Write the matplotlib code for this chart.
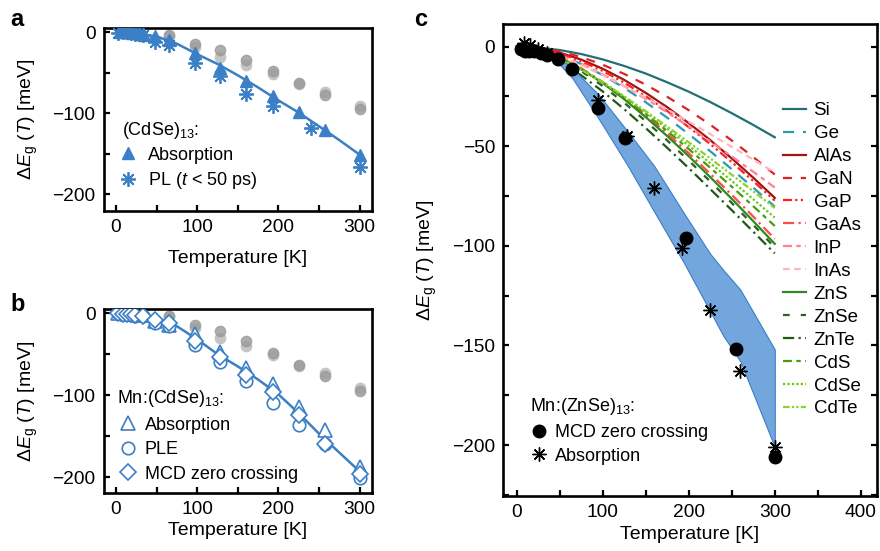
import matplotlib
matplotlib.use('Agg')
import matplotlib.pyplot as plt
from matplotlib.ticker import MultipleLocator

plt.rcParams['font.family'] = ['Liberation Sans', 'DejaVu Sans']
plt.rcParams['mathtext.fontset'] = 'custom'
plt.rcParams['mathtext.rm'] = 'Liberation Sans'
plt.rcParams['mathtext.it'] = 'Liberation Sans:italic'
plt.rcParams['mathtext.bf'] = 'Liberation Sans:bold'

# ===================== data: panel a, (CdSe)13 =====================
abs_a_T = [5, 10, 15, 20, 25, 30, 35, 48, 65, 97, 128, 160, 193, 225, 257, 300]
abs_a = [0, 0, 0, -1, -1, -2, -3, -5, -10, -26, -44, -60, -78, -98, -121, -152]
pl_a_T = [3, 8, 13, 18, 23, 28, 33, 48, 65, 97, 128, 160, 193, 240, 300]
pl_a = [-1, 0, 1, -1, -2, -2, -3, -12, -16, -38, -54, -76, -91, -118, -166]
fit_T = [0, 25, 50, 75, 100, 125, 150, 175, 200, 225, 250, 275, 300]
fit_a = [0, -1, -5, -14, -27, -39, -53, -68, -84, -99, -116, -133, -151]

# gray reference points (bulk)
gray_T = [65, 97, 128, 160, 193, 225, 257, 300]
gray_dark = [-3, -14, -22, -34, -48, -63, -77, -95]
gray_light = [-4, -18, -30, -40, -51, -64, -73, -91]

# ===================== data: panel b, Mn:(CdSe)13 =====================
b_T = [3, 8, 13, 18, 23, 33, 48, 65, 97, 128, 160, 193, 225, 257, 300]
abs_b = [0, 0, -1, -1, -1, -2, -10, -14, -26, -47, -67, -87, -114, -142, -187]
ple_b = [0, -1, -1, -2, -3, -3, -12, -16, -39, -59, -83, -110, -136, -160, -201]
mcd_b = [0, -1, -1, -1, -2, -4, -8, -12, -34, -54, -75, -96, -124, -159, -196]
fit_b = [0, -1, -5, -16, -32, -50, -65, -81, -99, -122, -147, -170, -193]

# ===================== data: panel c, Mn:(ZnSe)13 + bulk =====================
mcd_c_T = [5, 9, 14, 20, 28, 35, 48, 64, 95, 126, 197, 255, 300]
mcd_c = [-1, -2, -2, -2, -3, -4, -6, -11, -31, -46, -96, -152, -206]
abs_c_T = [8, 15, 25, 35, 95, 128, 160, 192, 225, 260, 300]
abs_c = [2, 1, -1, -3, -27, -45, -71, -101, -132, -163, -201]

band_T = [30, 50, 65, 95, 128, 160, 195, 225, 240, 260, 300]
band_upper = [-1, -6, -11, -24, -42, -60, -84, -104, -112, -122, -152]
band_lower = [-2, -9, -16, -36, -59, -83, -109, -133, -145, -158, -201]

bulk_T = [0, 25, 50, 75, 100, 125, 150, 175, 200, 225, 250, 275, 300]
si = [0, -0.4, -1.7, -3.7, -6.4, -9.7, -13.5, -17.9, -22.6, -27.8, -33.4, -39.3, -45.5]
ge = [0, -1.1, -4.2, -8.7, -14.3, -20.7, -27.9, -35.7, -43.9, -52.5, -61.5, -70.8, -80.3]
alas = [0, -0.8, -3.0, -6.5, -11.1, -16.7, -23.2, -30.4, -38.4, -46.9, -56.1, -65.8, -75.9]
gan = [0, -0.6, -2.4, -5.2, -9.1, -13.7, -19.1, -25.2, -31.9, -39.2, -47.1, -55.4, -64.2]
gap = [0, -0.9, -3.4, -7.3, -12.2, -18.1, -24.9, -32.3, -40.4, -48.9, -58.0, -67.5, -77.3]
gaas = [0, -1.5, -5.3, -10.9, -17.8, -25.7, -34.4, -43.7, -53.5, -63.8, -74.4, -85.3, -96.5]
inp = [0, -1.2, -4.3, -8.6, -13.9, -19.8, -26.2, -33.0, -40.1, -47.5, -55.1, -62.8, -70.7]
inas = [0, -1.5, -4.8, -9.2, -14.3, -19.8, -25.6, -31.5, -37.7, -43.9, -50.3, -56.7, -63.2]
zns = [0, -1.5, -5.5, -11.3, -18.3, -26.4, -35.4, -44.9, -55.0, -65.5, -76.4, -87.6, -99.0]
znse = [0, -1.7, -6.1, -12.3, -19.8, -28.2, -37.4, -47.1, -57.2, -67.7, -78.5, -89.5, -100.8]
znte = [0, -2.2, -7.4, -14.4, -22.5, -31.4, -40.9, -50.8, -61.0, -71.5, -82.1, -92.9, -103.8]
cds = [0, -1.6, -5.6, -11.3, -18.0, -25.6, -33.8, -42.4, -51.4, -60.8, -70.3, -80.1, -90.0]
cdse = [0, -1.7, -5.7, -11.3, -17.8, -25.1, -32.9, -41.2, -49.7, -58.5, -67.4, -76.6, -85.8]
cdte = [0, -1.8, -6.0, -11.6, -18.0, -25.0, -32.4, -40.1, -48.0, -56.1, -64.3, -72.6, -81.0]

materials = ['Si', 'Ge', 'AlAs', 'GaN', 'GaP', 'GaAs', 'InP', 'InAs',
             'ZnS', 'ZnSe', 'ZnTe', 'CdS', 'CdSe', 'CdTe']
curves = [si, ge, alas, gan, gap, gaas, inp, inas, zns, znse, znte, cds, cdse, cdte]
colors = ['#246f72', '#2a9cb2', '#a01414', '#dc2323', '#ff1f1f', '#ff4b4b', '#ff8090',
          '#ffb5bf', '#2f8a1d', '#2e5e22', '#1f5a14', '#4c9a10', '#66cc11', '#8ad230']
dashes = [(), (5, 4), (), (4, 4), (4, 1.5, 1, 1.5, 1, 1.5), (5, 2, 1, 2), (4, 2, 2, 2),
          (3, 2), (), (3, 5), (5, 2, 1, 2), (4, 2, 2, 2), (1, 1), (3, 1, 1, 1, 1, 1)]

blue = '#3b7fc6'
band_col = '#72a6dc'
ylab = r'$\Delta E_{\mathrm{g}}$ ($T$) [meV]'

fig = plt.figure(figsize=(8.8, 5.51), dpi=100)
ax_a = fig.add_axes([0.118, 0.617, 0.3045, 0.332])
ax_b = fig.add_axes([0.118, 0.106, 0.3045, 0.333])
ax_c = fig.add_axes([0.572, 0.0998, 0.4243, 0.856])


def style(ax, ymaj, ymin, xmaj, xmin, right=False, xpad=3):
    for s in ax.spines.values():
        s.set_linewidth(1.9)
    ax.yaxis.set_major_locator(MultipleLocator(ymaj))
    ax.yaxis.set_minor_locator(MultipleLocator(ymin))
    ax.xaxis.set_major_locator(MultipleLocator(xmaj))
    ax.xaxis.set_minor_locator(MultipleLocator(xmin))
    ax.tick_params(which='both', direction='in', length=4, width=1.6,
                   top=False, right=right, labelsize=13.8, pad=6)
    ax.set_xlabel('Temperature [K]', fontsize=14, labelpad=xpad)
    ax.set_ylabel(ylab, fontsize=14, labelpad=9)


leg_kw = dict(frameon=False, fontsize=13, title_fontsize=13, alignment='left',
              borderpad=0, borderaxespad=0, loc='upper left')

# ===================== panel a =====================
ax = ax_a
ax.scatter(gray_T, gray_light, s=55, color='#c4c4c4', zorder=2)
ax.scatter(gray_T, gray_dark, s=55, color='#9a9a9a', zorder=2, alpha=0.8)
ax.plot(fit_T, fit_a, color=blue, lw=1.8, zorder=3)
ax.plot(abs_a_T, abs_a, ls='none', marker='^', ms=9, color=blue, zorder=4, label='Absorption')
ax.plot(pl_a_T, pl_a, ls='none', marker=(8, 2, 0), ms=10.5, mew=1.3, color=blue, zorder=4,
        label=r'PL ($t$ < 50 ps)')
ax.set_xlim(-15, 315)
ax.set_ylim(-220.6, 5.3)
style(ax, 100, 50, 100, 50, xpad=10)
ax.legend(title=r'(CdSe)$_{13}$:', bbox_to_anchor=(0.067, 0.50),
          handlelength=0.7, handletextpad=0.75, labelspacing=0.34, **leg_kw)
fig.text(0.012, 0.965, 'a', fontsize=17, fontweight='bold', va='center')

# ===================== panel b =====================
ax = ax_b
ax.scatter(gray_T, gray_light, s=55, color='#c4c4c4', zorder=2)
ax.scatter(gray_T, gray_dark, s=55, color='#9a9a9a', zorder=2, alpha=0.8)
ax.plot(fit_T, fit_b, color=blue, lw=1.8, zorder=3)
ax.plot(b_T, abs_b, ls='none', marker='^', ms=9.5, mfc='white', mec=blue, mew=1.2, zorder=4,
        label='Absorption')
ax.plot(b_T, ple_b, ls='none', marker='o', ms=9, mfc='white', mec=blue, mew=1.2, zorder=4,
        label='PLE')
ax.plot(b_T, mcd_b, ls='none', marker='D', ms=8.5, mfc='white', mec=blue, mew=1.2, zorder=5,
        label='MCD zero crossing')
ax.set_xlim(-15, 315)
ax.set_ylim(-218.8, 4.9)
style(ax, 100, 50, 100, 50)
ax.legend(title=r'Mn:(CdSe)$_{13}$:', bbox_to_anchor=(0.049, 0.57),
          handlelength=1.2, handletextpad=0.35, labelspacing=0.42, **leg_kw)
fig.text(0.012, 0.447, 'b', fontsize=17, fontweight='bold', va='center')

# ===================== panel c =====================
ax = ax_c
handles = []
for name, vals, c, d in zip(materials, curves, colors, dashes):
    ln, = ax.plot(bulk_T, vals, color=c, lw=1.6, dashes=d, label=name, zorder=2)
    handles.append(ln)
ax.fill_between(band_T, band_lower, band_upper, color=band_col, edgecolor=blue, lw=0.8, zorder=3)
h1, = ax.plot(mcd_c_T, mcd_c, ls='none', marker='o', ms=9, color='black', zorder=5,
              label='MCD zero crossing')
h2, = ax.plot(abs_c_T, abs_c, ls='none', marker=(8, 2, 0), ms=10, mew=1.0, color='black',
              zorder=5, label='Absorption')
ax.set_xlim(-15.6, 418.6)
ax.set_ylim(-225.6, 11.2)
style(ax, 50, 25, 100, 50, right=True)
leg1 = ax.legend(handles=handles, loc='upper left', bbox_to_anchor=(0.749, 0.835),
                 frameon=False, fontsize=13.5, handlelength=1.2, handletextpad=0.43,
                 labelspacing=0.31, borderpad=0, borderaxespad=0)
ax.add_artist(leg1)
ax.legend(handles=[h1, h2], title=r'Mn:(ZnSe)$_{13}$:', bbox_to_anchor=(0.0715, 0.212),
          handlelength=1.0, handletextpad=0.4, labelspacing=0.38, **leg_kw)
fig.text(0.471, 0.965, 'c', fontsize=17, fontweight='bold', va='center')

fig.savefig('out.png', dpi=100)
